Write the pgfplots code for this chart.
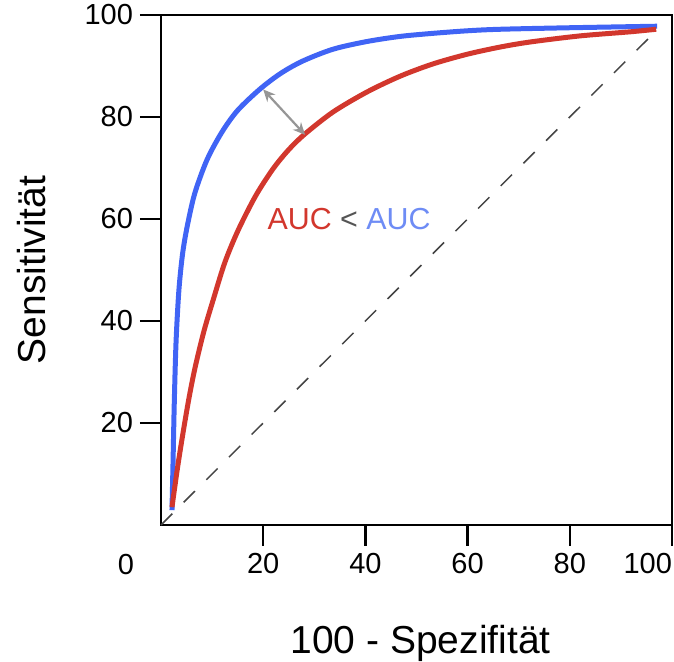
\documentclass[border=0pt]{standalone}
\usepackage{pgfplots}
\pgfplotsset{compat=1.18}
\usetikzlibrary{arrows.meta}
\usepackage{fontspec}
\setmainfont{Liberation Sans}
\definecolor{rocblue}{RGB}{64,100,245}
\definecolor{rocred}{RGB}{210,55,45}
\definecolor{txtblue}{RGB}{110,140,245}
\definecolor{arrgray}{RGB}{150,150,150}
\definecolor{ltgray}{RGB}{85,85,85}
\begin{document}
\begin{tikzpicture}
\begin{axis}[
  scale only axis, width=255.5pt, height=255pt,
  xmin=0, xmax=100, ymin=0, ymax=100,
  xtick={20,40,60,80,100}, ytick={20,40,60,80,100},
  xticklabels={20,40,60,80,\llap{100}},
  tick pos=left, tick align=outside, major tick length=10.5pt,
  every tick/.style={black, line width=1.2pt},
  axis line style={line width=1.3pt},
  ticklabel style={font=\fontsize{14.5}{16}\selectfont},
  /pgf/number format/assume math mode=true,
  xlabel={100 - Spezifität}, ylabel={Sensitivität},
  label style={font=\fontsize{19.5}{22}\selectfont},
  xlabel style={at={(axis description cs:0.508,-0.251)}, anchor=base, inner sep=0pt},
  ylabel style={at={(axis description cs:-0.254,0.5)}, anchor=center, inner sep=0pt},
  clip=false,
]
\addplot[ltgray!80!black, line width=0.75pt, dash pattern=on 8pt off 8pt] coordinates {(0,0) (97,97)};
\addplot[rocblue, line width=2.5pt, smooth, tension=0.5] coordinates {
(2.15,2.9) (2.35,12) (2.6,24) (2.95,36) (3.5,46) (4.2,53) (5.1,58.4) (6.6,65)
(9.0,71.6) (11.9,77.0) (15,81.3) (19.4,85.5) (23.5,88.6) (27.8,91.0) (33.7,93.3)
(40.3,94.8) (46.8,95.8) (53.2,96.4) (59.9,96.9) (66.3,97.2) (80.0,97.5) (97.1,97.8)
};
\addplot[rocred, line width=2.5pt, smooth, tension=0.5] coordinates {
(2.15,3.5) (3.2,11) (4.3,18) (5.5,25) (6.7,31) (8.4,38) (10.2,44.1) (12.5,51.5)
(15.1,57.8) (18.5,64.5) (21.9,69.8) (25,73.6) (28.2,76.7) (33.7,81.0) (40.3,84.9)
(46.8,88.0) (53.2,90.4) (59.9,92.3) (66.3,93.7) (72.2,94.7) (82.0,95.9) (91.8,96.7) (96.9,97.2)
};
\draw[arrgray, line width=1.1pt, {Stealth[length=6pt,width=5.5pt]}-{Stealth[length=6pt,width=5.5pt]}] (axis cs:20.0,85.4) -- (axis cs:28.2,76.5);
\node[font=\fontsize{15.2}{17}\selectfont, inner sep=0pt] at (axis cs:36.8,60.0)
  {\textcolor{rocred}{AUC} \textcolor{ltgray}{<} \textcolor{txtblue}{AUC}};
\node[font=\fontsize{14.5}{16}\selectfont, inner sep=0pt] at (axis cs:0,0) [xshift=-17.5pt, yshift=-20pt] {0};
\end{axis}
\pgfresetboundingbox
\useasboundingbox ([xshift=-80.5pt,yshift=-68.5pt]current axis.south west) rectangle ([xshift=1pt,yshift=7.5pt]current axis.north east);
\end{tikzpicture}
\end{document}
